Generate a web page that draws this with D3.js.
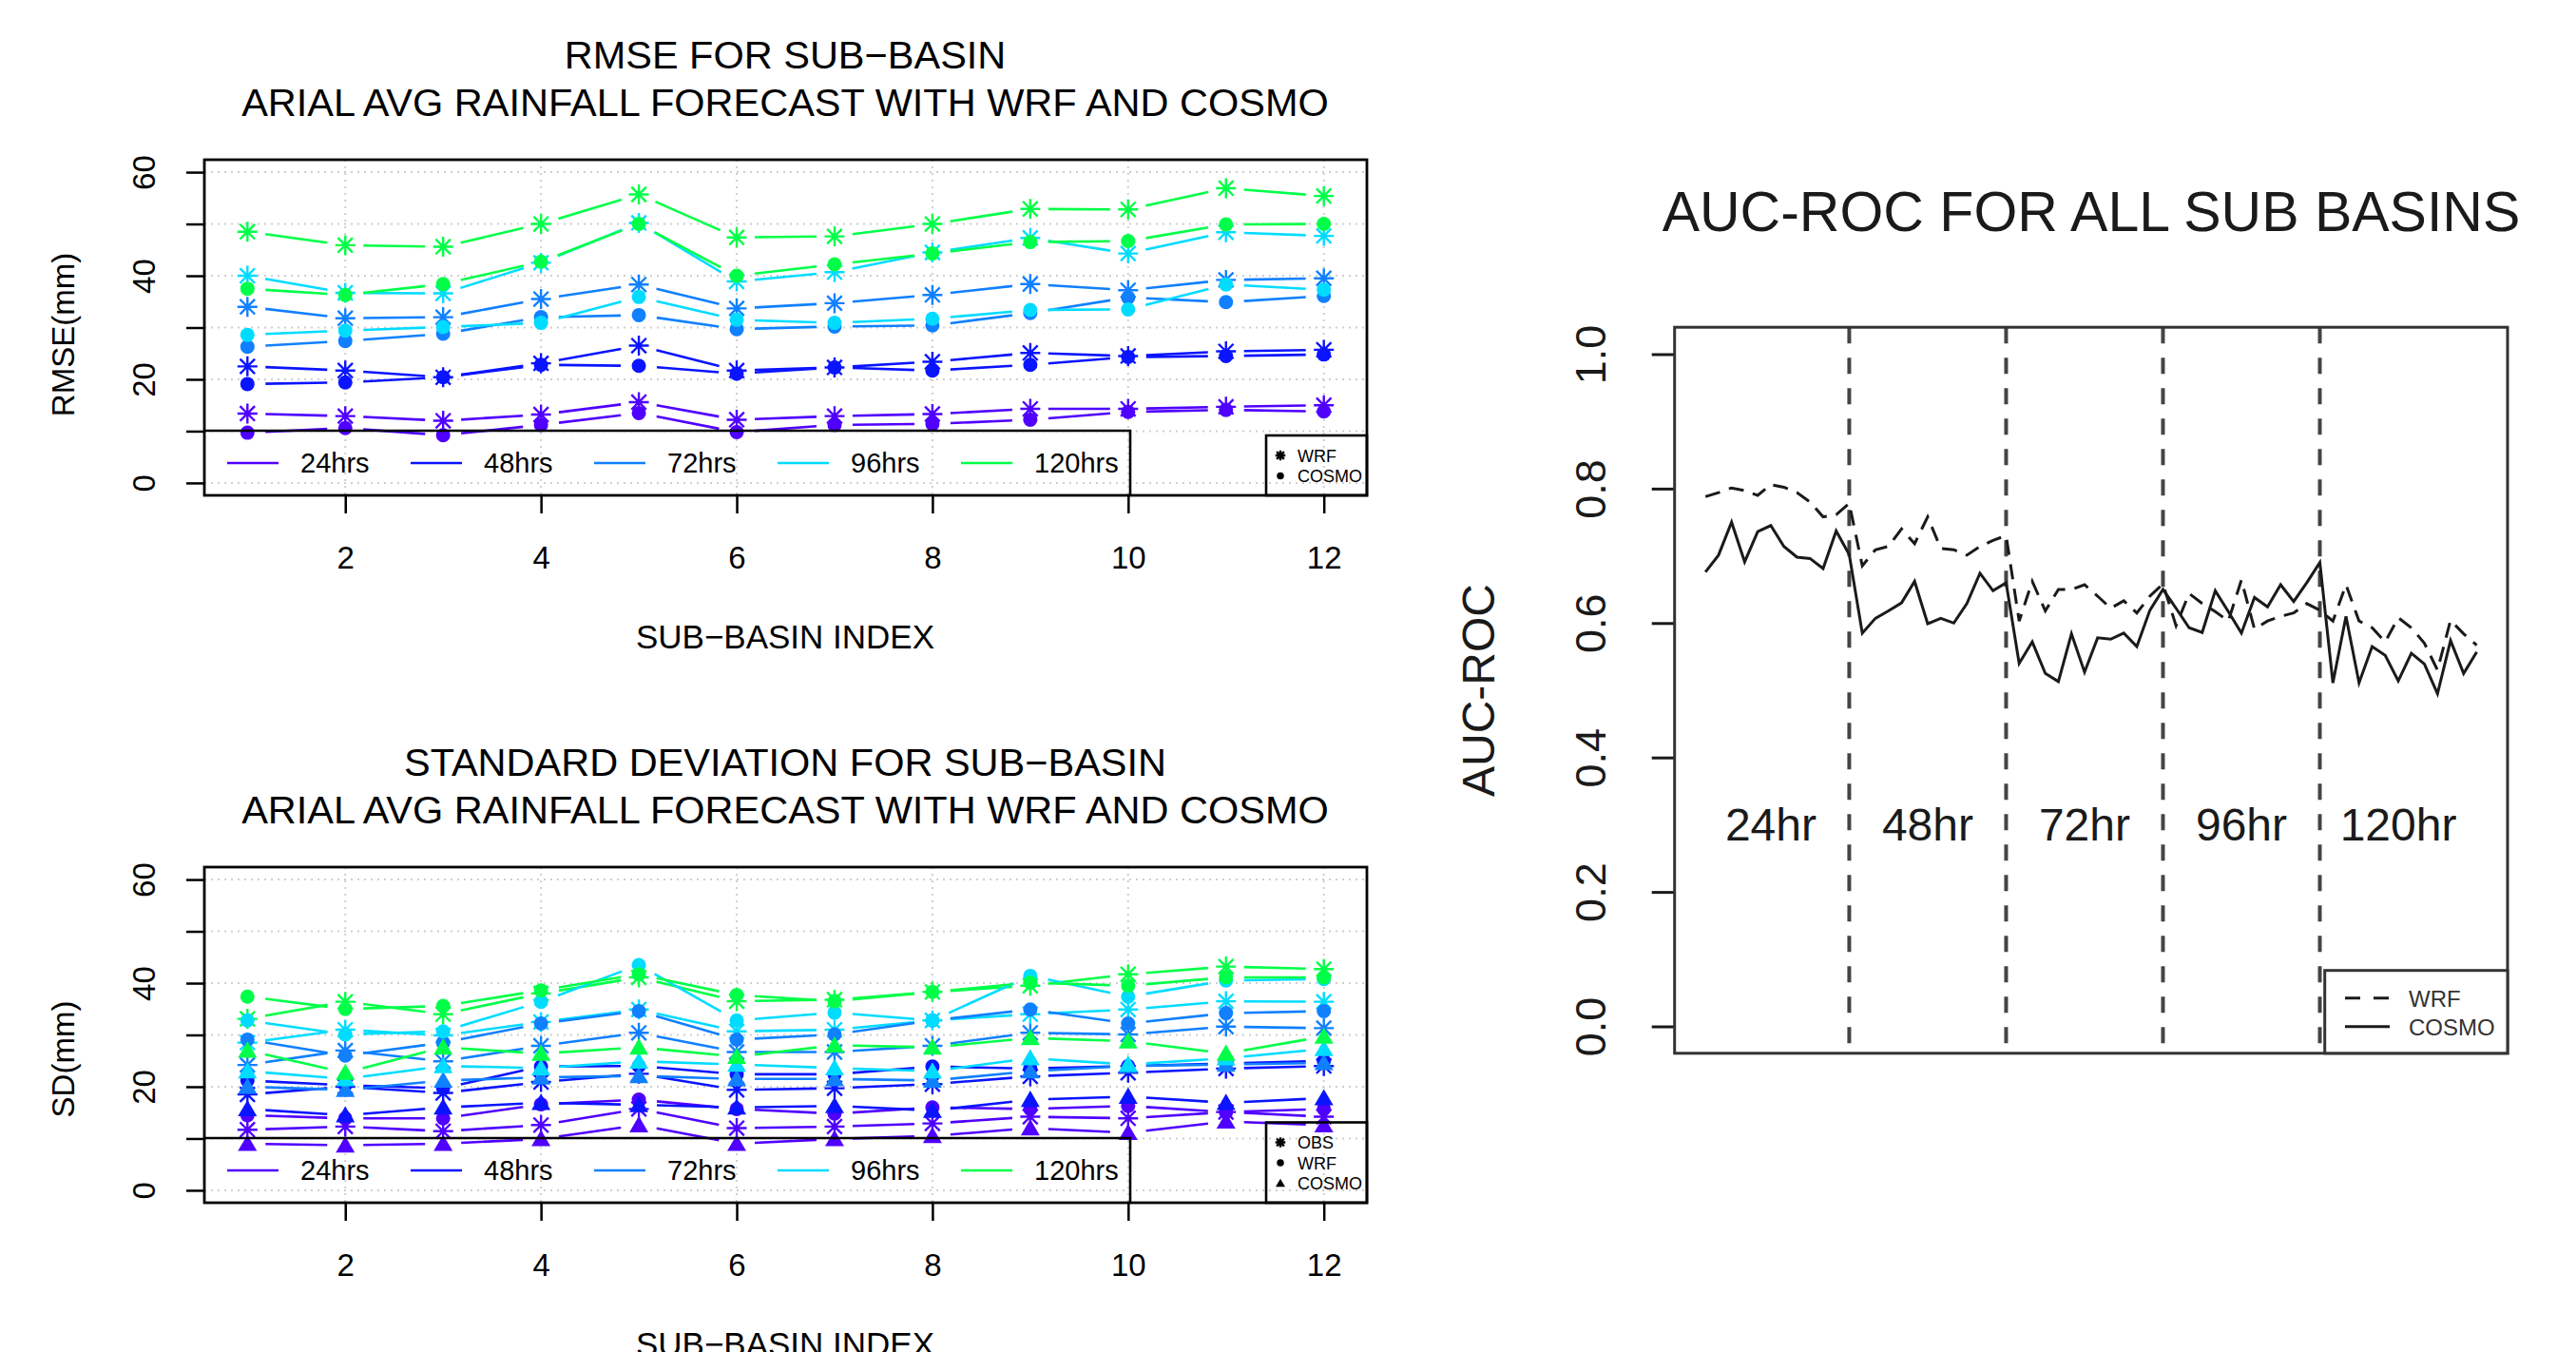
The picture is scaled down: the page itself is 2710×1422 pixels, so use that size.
<!DOCTYPE html>
<html>
<head>
<meta charset="utf-8">
<script src="https://cdn.jsdelivr.net/npm/d3@7"></script>
<style>
body { margin: 0; background: #fff; }
svg text { font-family: "Liberation Sans", Arial, sans-serif; fill: #000; }
</style>
</head>
<body>
<svg id="chart" width="2710" height="1422"></svg>
<script>
// ---- data ----
var basins = [1, 2, 3, 4, 5, 6, 7, 8, 9, 10, 11, 12];
var leads = ["24hrs", "48hrs", "72hrs", "96hrs", "120hrs"];
var leadColors = ["#5000FF", "#0A14FF", "#1080FF", "#00DCFF", "#00FF48"];
var xTicks = [2, 4, 6, 8, 10, 12];
var yTicks = [0, 10, 20, 30, 40, 50, 60];
var yLabels = [0, 20, 40, 60];

// RMSE, one row per lead time
var rmseWrf = [
  [13.4, 12.9, 12.0, 13.2, 15.6, 12.2, 12.9, 13.3, 14.3, 14.3, 14.7, 15.0],
  [22.5, 21.7, 20.4, 23.1, 26.5, 21.7, 22.3, 23.4, 25.1, 24.5, 25.4, 25.7],
  [34.0, 31.8, 32.0, 35.5, 38.3, 33.7, 34.7, 36.3, 38.4, 37.2, 39.2, 39.5],
  [40.0, 36.7, 36.6, 42.5, 50.2, 38.9, 40.7, 44.5, 47.3, 44.3, 48.4, 47.7],
  [48.5, 45.9, 45.6, 50.0, 55.7, 47.4, 47.6, 50.0, 52.9, 52.8, 56.9, 55.4]
];
var rmseCosmo = [
  [9.7, 10.6, 9.2, 11.2, 13.5, 9.8, 11.2, 11.4, 12.2, 13.7, 14.1, 13.8],
  [19.1, 19.4, 20.4, 22.8, 22.6, 21.1, 22.3, 21.7, 22.8, 24.3, 24.5, 24.8],
  [26.3, 27.4, 28.8, 32.0, 32.4, 29.7, 30.2, 30.4, 32.8, 35.8, 34.9, 36.1],
  [28.6, 29.4, 30.1, 30.9, 35.9, 31.5, 30.9, 31.7, 33.4, 33.5, 38.3, 37.3],
  [37.5, 36.3, 38.4, 42.7, 50.0, 40.0, 42.2, 44.3, 46.5, 46.7, 49.9, 50.0]
];

// standard deviation, one row per lead time
var sdObs = [
  [11.7, 12.3, 11.4, 12.6, 15.7, 12.0, 12.3, 12.9, 14.2, 13.9, 15.1, 14.2],
  [18.5, 20.0, 18.8, 20.9, 22.5, 19.4, 19.7, 20.5, 22.0, 22.7, 23.5, 24.0],
  [24.2, 27.0, 24.9, 27.9, 30.4, 26.7, 26.7, 27.9, 30.4, 30.1, 31.6, 31.3],
  [28.5, 31.0, 29.9, 32.5, 34.9, 30.7, 31.0, 32.8, 34.0, 34.9, 36.5, 36.4],
  [33.1, 36.4, 34.0, 38.0, 41.1, 36.5, 36.8, 38.3, 39.5, 41.7, 43.2, 42.7]
];
var sdWrf = [
  [14.5, 13.9, 13.9, 16.6, 17.5, 15.7, 14.8, 16.0, 15.7, 16.3, 15.1, 15.7],
  [21.2, 20.3, 19.7, 23.9, 24.0, 22.4, 22.4, 23.9, 23.5, 24.0, 24.5, 25.0],
  [29.1, 26.0, 28.5, 32.2, 34.6, 29.1, 30.1, 32.8, 34.9, 32.2, 34.2, 34.6],
  [32.8, 30.1, 30.7, 36.4, 43.5, 32.8, 34.3, 32.8, 41.4, 37.4, 40.5, 40.8],
  [37.4, 35.0, 35.6, 38.6, 41.7, 37.7, 36.5, 38.3, 40.1, 39.5, 41.1, 41.1]
];
var sdCosmo = [
  [9.0, 8.7, 9.0, 9.9, 12.6, 9.0, 9.9, 10.5, 12.0, 11.1, 13.3, 12.6],
  [15.7, 14.5, 16.0, 16.9, 16.5, 16.0, 16.3, 15.4, 17.5, 18.1, 16.9, 17.8],
  [20.0, 19.4, 21.2, 21.8, 22.1, 21.5, 21.5, 21.2, 23.0, 24.0, 24.3, 24.6],
  [23.0, 21.5, 24.0, 23.6, 24.9, 24.3, 23.6, 23.0, 25.5, 24.3, 25.5, 27.3],
  [27.0, 22.7, 27.6, 26.4, 27.6, 25.8, 28.0, 27.6, 29.4, 28.8, 26.4, 29.7]
];

// AUC-ROC, 12 sub-basins x 5 lead times
var aucWrf = [
  0.788, 0.794, 0.801, 0.797, 0.790, 0.806, 0.802, 0.794, 0.780, 0.758, 0.761, 0.778,
  0.685, 0.709, 0.714, 0.740, 0.718, 0.758, 0.711, 0.709, 0.701, 0.714, 0.723, 0.730,
  0.603, 0.662, 0.618, 0.650, 0.650, 0.657, 0.640, 0.622, 0.633, 0.615, 0.640, 0.658,
  0.596, 0.644, 0.629, 0.617, 0.603, 0.664, 0.591, 0.603, 0.610, 0.615, 0.629, 0.619,
  0.603, 0.657, 0.603, 0.593, 0.572, 0.608, 0.593, 0.570, 0.530, 0.604, 0.584, 0.567
];
var aucCosmo = [
  0.676, 0.701, 0.750, 0.691, 0.736, 0.745, 0.714, 0.698, 0.696, 0.681, 0.737, 0.702,
  0.585, 0.607, 0.618, 0.630, 0.662, 0.599, 0.607, 0.600, 0.629, 0.674, 0.648, 0.660,
  0.540, 0.572, 0.525, 0.513, 0.584, 0.527, 0.578, 0.576, 0.585, 0.565, 0.619, 0.650,
  0.622, 0.593, 0.586, 0.648, 0.617, 0.585, 0.638, 0.624, 0.657, 0.632, 0.660, 0.690,
  0.511, 0.610, 0.511, 0.565, 0.552, 0.514, 0.555, 0.539, 0.495, 0.574, 0.525, 0.557
];
var aucGroups = ["24hr", "48hr", "72hr", "96hr", "120hr"];
var aucBreaks = [12, 24, 36, 48];
var aucGroupMid = [6, 18, 30, 42, 54];
var aucTicks = [0, 0.2, 0.4, 0.6, 0.8, 1.0];

var svg = d3.select("#chart");

// ---- marker shapes (R pch 8, 16, 17) ----
function shapePath(shape, s) {
  if (shape === "star") {
    var r = 10.5 * s, a = 7.8 * s;
    return "M" + (-r) + ",0H" + r + "M0," + (-r) + "V" + r +
      "M" + (-a) + "," + (-a) + "L" + a + "," + a + "M" + (-a) + "," + a + "L" + a + "," + (-a);
  }
  if (shape === "dot") {
    var c = 7.5 * s;
    return "M" + (-c) + ",0A" + c + "," + c + " 0 1,0 " + c + ",0A" + c + "," + c + " 0 1,0 " + (-c) + ",0Z";
  }
  var w = 10 * s, h = 9.5 * s;
  return "M0," + (-h) + "L" + w + "," + (h * 0.8) + "L" + (-w) + "," + (h * 0.8) + "Z";
}

function drawMarker(g, shape, px, py, color, s) {
  var p = g.append("path")
    .attr("d", shapePath(shape, s || 1))
    .attr("transform", "translate(" + px + "," + py + ")");
  if (shape === "star") p.attr("fill", "none").attr("stroke", color).attr("stroke-width", 2.4);
  else p.attr("fill", color);
}

// ---- RMSE / SD panels ----
function panel(cfg) {
  var top = cfg.top, bottom = top + 353, left = 215, right = 1438;
  var x = d3.scaleLinear().domain([0.56, 12.44]).range([left, right]);
  var y = d3.scaleLinear().domain([-2.4, 62.4]).range([bottom, top]);
  var g = svg.append("g");

  g.append("text").attr("x", 826).attr("y", top - 96).attr("text-anchor", "middle")
    .style("font-size", "41.5px").text(cfg.title[0]);
  g.append("text").attr("x", 826).attr("y", top - 46).attr("text-anchor", "middle")
    .style("font-size", "41.5px").text(cfg.title[1]);

  // grid
  g.append("g").selectAll("line").data(yTicks).join("line")
    .attr("x1", left).attr("x2", right).attr("y1", d => y(d)).attr("y2", d => y(d))
    .attr("stroke", "#cfcfcf").attr("stroke-width", 2).attr("stroke-dasharray", "2,5");
  g.append("g").selectAll("line").data(xTicks).join("line")
    .attr("x1", d => x(d)).attr("x2", d => x(d)).attr("y1", top).attr("y2", bottom)
    .attr("stroke", "#cfcfcf").attr("stroke-width", 2).attr("stroke-dasharray", "2,5");

  // axes
  var ya = g.append("g").attr("transform", "translate(" + left + ",0)")
    .call(d3.axisLeft(y).tickValues(yTicks).tickSize(19).tickSizeOuter(0)
      .tickFormat(d => yLabels.indexOf(d) >= 0 ? d : ""));
  ya.select(".domain").remove();
  ya.selectAll(".tick line").attr("stroke", "#000").attr("stroke-width", 2.5);
  ya.selectAll(".tick text").attr("x", 0).attr("dy", 0).attr("text-anchor", "middle")
    .attr("transform", "translate(-52,0) rotate(-90)").style("font-size", "33px");

  var xa = g.append("g").attr("transform", "translate(0," + bottom + ")")
    .call(d3.axisBottom(x).tickValues(xTicks).tickSize(19).tickSizeOuter(0));
  xa.select(".domain").remove();
  xa.selectAll(".tick line").attr("stroke", "#000").attr("stroke-width", 2.5);
  xa.selectAll(".tick text").attr("y", 77).attr("dy", 0).style("font-size", "33px");

  g.append("text").attr("x", 826).attr("y", bottom + 161).attr("text-anchor", "middle")
    .style("font-size", "35px").text("SUB\u2212BASIN INDEX");
  g.append("text").attr("transform", "translate(78," + (top + cfg.ytitleOffset) + ") rotate(-90)")
    .attr("text-anchor", "middle").style("font-size", "33px").text(cfg.ytitle);

  // series: lines broken around points (type = "b")
  var gap = 19;
  cfg.series.forEach(function (ser) {
    ser.data.forEach(function (row, li) {
      var col = leadColors[li];
      var pts = row.map((v, i) => [x(basins[i]), y(v)]);
      var segs = [];
      for (var i = 0; i < pts.length - 1; i++) {
        var a = pts[i], b = pts[i + 1];
        var dx = b[0] - a[0], dy = b[1] - a[1], len = Math.hypot(dx, dy);
        if (len <= 2 * gap) continue;
        var ux = dx / len, uy = dy / len;
        segs.push([[a[0] + ux * gap, a[1] + uy * gap], [b[0] - ux * gap, b[1] - uy * gap]]);
      }
      g.append("g").selectAll("line").data(segs).join("line")
        .attr("x1", d => d[0][0]).attr("y1", d => d[0][1])
        .attr("x2", d => d[1][0]).attr("y2", d => d[1][1])
        .attr("stroke", col).attr("stroke-width", 2.6);
      pts.forEach(p => drawMarker(g, ser.shape, p[0], p[1], col));
    });
  });

  // plot box
  g.append("rect").attr("x", left).attr("y", top).attr("width", right - left).attr("height", bottom - top)
    .attr("fill", "none").attr("stroke", "#000").attr("stroke-width", 2.8);

  // lead-time legend (bottom left)
  var lg = g.append("g");
  lg.append("path").attr("d", "M" + left + "," + (bottom - 68) + "H1189V" + bottom)
    .attr("fill", "none").attr("stroke", "#000").attr("stroke-width", 2.6);
  leads.forEach(function (name, i) {
    var x0 = 239 + i * 193;
    lg.append("line").attr("x1", x0).attr("x2", x0 + 54)
      .attr("y1", bottom - 34).attr("y2", bottom - 34)
      .attr("stroke", leadColors[i]).attr("stroke-width", 2.6);
    lg.append("text").attr("x", x0 + 77).attr("y", bottom - 24)
      .style("font-size", "29px").text(name);
  });

  // model legend (bottom right)
  var n = cfg.series.length, mtop = bottom - 20 - n * 21.5;
  var mg = g.append("g");
  mg.append("rect").attr("x", 1332).attr("y", mtop).attr("width", right - 1332).attr("height", bottom - mtop)
    .attr("fill", "none").attr("stroke", "#000").attr("stroke-width", 2.6);
  cfg.series.forEach(function (ser, i) {
    var cy = mtop + 21 + i * 21.5;
    drawMarker(mg, ser.shape, 1347, cy, "#000", 0.5);
    mg.append("text").attr("x", 1365).attr("y", cy + 6.5).style("font-size", "18px").text(ser.name);
  });
}

panel({
  top: 168,
  title: ["RMSE FOR SUB\u2212BASIN", "ARIAL AVG RAINFALL FORECAST WITH WRF AND COSMO"],
  ytitle: "RMSE(mm)",
  ytitleOffset: 184,
  series: [
    { name: "WRF", shape: "star", data: rmseWrf },
    { name: "COSMO", shape: "dot", data: rmseCosmo }
  ]
});

panel({
  top: 912,
  title: ["STANDARD DEVIATION FOR SUB\u2212BASIN", "ARIAL AVG RAINFALL FORECAST WITH WRF AND COSMO"],
  ytitle: "SD(mm)",
  ytitleOffset: 202,
  series: [
    { name: "OBS", shape: "star", data: sdObs },
    { name: "WRF", shape: "dot", data: sdWrf },
    { name: "COSMO", shape: "tri", data: sdCosmo }
  ]
});

// ---- AUC-ROC panel ----
(function () {
  var left = 1761.7, right = 2638, top = 344.2, bottom = 1107.8;
  var x = d3.scaleLinear().domain([-1.36, 62.36]).range([left, right]);
  var y = d3.scaleLinear().domain([-0.04, 1.04]).range([bottom, top]);
  var g = svg.append("g");
  var ink = "#1a1a1a";

  g.append("text").attr("x", 2200).attr("y", 243).attr("text-anchor", "middle")
    .style("font-size", "59px").style("fill", ink).text("AUC-ROC FOR ALL SUB BASINS");

  var ya = g.append("g").attr("transform", "translate(" + left + ",0)")
    .call(d3.axisLeft(y).tickValues(aucTicks).tickSize(24).tickSizeOuter(0).tickFormat(d3.format(".1f")));
  ya.select(".domain").remove();
  ya.selectAll(".tick line").attr("stroke", ink).attr("stroke-width", 3);
  ya.selectAll(".tick text").attr("x", 0).attr("dy", 0).attr("text-anchor", "middle")
    .attr("transform", "translate(-73,0) rotate(-90)").style("font-size", "45px").style("fill", ink);

  g.append("text").attr("transform", "translate(1572," + ((top + bottom) / 2) + ") rotate(-90)")
    .attr("text-anchor", "middle").style("font-size", "48px").style("fill", ink).text("AUC-ROC");

  g.append("g").selectAll("line").data(aucBreaks).join("line")
    .attr("x1", d => x(d)).attr("x2", d => x(d)).attr("y1", top).attr("y2", bottom)
    .attr("stroke", "#444").attr("stroke-width", 4).attr("stroke-dasharray", "17,15");

  g.append("g").selectAll("text").data(aucGroups).join("text")
    .attr("x", (d, i) => x(aucGroupMid[i])).attr("y", y(0.3)).attr("dy", "0.35em")
    .attr("text-anchor", "middle").style("font-size", "48px").style("fill", ink).text(d => d);

  var line = d3.line().x((d, i) => x(i + 1)).y(d => y(d));
  g.append("path").datum(aucWrf).attr("d", line).attr("fill", "none")
    .attr("stroke", ink).attr("stroke-width", 3).attr("stroke-dasharray", "16,10");
  g.append("path").datum(aucCosmo).attr("d", line).attr("fill", "none")
    .attr("stroke", ink).attr("stroke-width", 3);

  g.append("rect").attr("x", left).attr("y", top).attr("width", right - left).attr("height", bottom - top)
    .attr("fill", "none").attr("stroke", "#333").attr("stroke-width", 3);

  // legend
  var lx = 2445.7, ly = 1020.7;
  g.append("rect").attr("x", lx).attr("y", ly).attr("width", right - lx).attr("height", bottom - ly)
    .attr("fill", "#fff").attr("stroke", "#333").attr("stroke-width", 3);
  [["WRF", "16,14"], ["COSMO", null]].forEach(function (it, i) {
    var cy = ly + 29 + i * 30;
    g.append("line").attr("x1", 2467).attr("x2", 2514).attr("y1", cy).attr("y2", cy)
      .attr("stroke", ink).attr("stroke-width", 3).attr("stroke-dasharray", it[1]);
    g.append("text").attr("x", 2534).attr("y", cy + 9).style("font-size", "24px")
      .style("fill", "#333").text(it[0]);
  });
})();
</script>
</body>
</html>
